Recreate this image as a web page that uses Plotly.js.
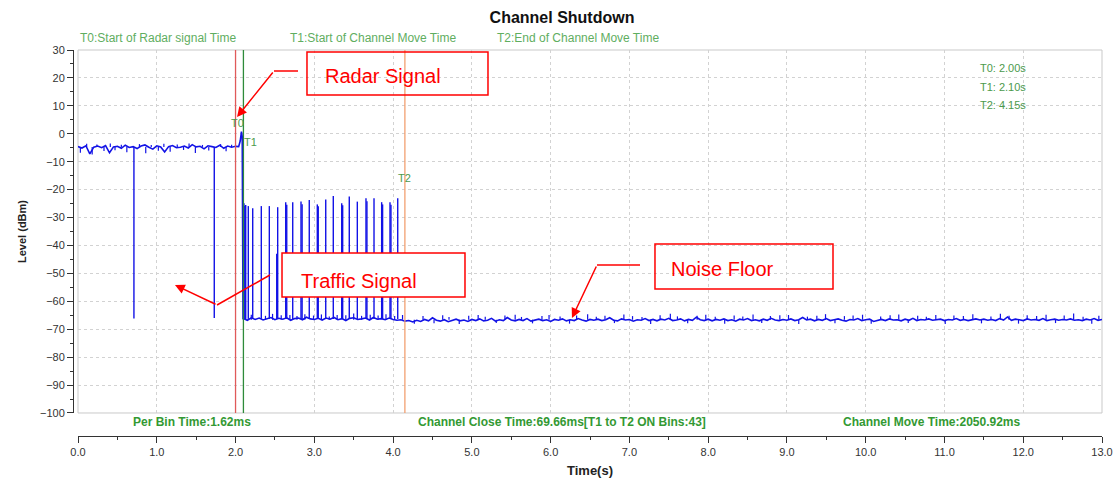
<!DOCTYPE html>
<html><head><meta charset="utf-8">
<script src="https://cdn.plot.ly/plotly-3.0.1.min.js"></script>
<style>html,body{margin:0;padding:0;background:#fff}#chart{width:1116px;height:479px}</style>
</head><body><div id="chart"></div>
<script>
// ---- data ----
const preStart = 0.0, preStep = 0.05;
const preLevels = [-4.6,-5.1,-4.3,-7.2,-4.8,-4.4,-5.0,-4.2,-6.8,-4.7,
  -4.5,-5.2,-4.1,-4.9,-4.6,-5.3,-4.4,-4.0,-4.8,-5.5,
  -4.3,-4.7,-6.5,-4.6,-4.2,-5.0,-4.8,-4.4,-5.1,-3.9,
  -4.7,-4.5,-5.4,-4.3,-4.6,-4.9,-4.1,-5.2,-4.4,-4.8,-4.5];
const radarTimes  = [2.04, 2.06, 2.075, 2.085, 2.095];
const radarLevels = [-4.6, -2.5, 0.8, -1.0, -66.4];
const postStart = 2.10, postStep = 0.05;
const postLevels = [
  -66.2,-66.8,-65.9,-66.5,-66.0,-66.7,-66.3,-65.8,-66.6,-66.1,
  -66.4,-65.9,-66.8,-66.2,-66.0,-66.6,-65.7,-66.3,-66.5,-66.1,
  -66.7,-66.0,-66.4,-65.8,-66.6,-66.2,-66.9,-66.1,-65.9,-66.5,
  -66.3,-66.0,-66.7,-65.8,-66.4,-66.2,-66.6,-66.0,-66.5,-66.8,
  -66.6,-67.1,-66.9,-67.4,-66.8,-67.2,-66.5,-67.0,-65.9,-66.8,
  -67.1,-66.6,-67.3,-66.9,-66.4,-67.0,-66.7,-67.2,-66.5,-66.9,
  -66.3,-67.0,-66.8,-66.1,-67.1,-66.6,-66.9,-65.8,-66.7,-67.0,
  -66.5,-66.9,-66.2,-67.1,-66.7,-66.4,-66.9,-66.6,-67.2,-66.5,
  -66.8,-66.3,-67.0,-66.6,-66.9,-66.2,-66.7,-67.1,-66.5,-66.8,
  -66.4,-66.9,-66.6,-65.9,-66.8,-67.0,-66.3,-66.7,-66.5,-67.1,
  -66.6,-66.8,-66.2,-66.9,-66.5,-67.0,-66.4,-66.7,-66.1,-66.9,
  -66.7,-66.3,-67.0,-66.5,-66.8,-65.7,-66.6,-66.9,-66.4,-67.0,
  -66.5,-66.8,-66.3,-66.9,-66.6,-67.1,-66.4,-66.7,-66.2,-66.9,
  -66.6,-67.0,-66.4,-66.8,-66.1,-66.7,-66.9,-66.5,-66.8,-66.3,
  -66.9,-66.6,-65.8,-66.7,-66.4,-67.0,-66.5,-66.8,-66.2,-66.9,
  -66.6,-66.3,-66.8,-67.1,-66.5,-66.7,-66.2,-66.9,-66.6,-66.4,
  -67.2,-66.8,-66.5,-66.9,-66.3,-66.7,-66.6,-67.0,-66.4,-66.8,
  -66.1,-66.9,-66.5,-66.7,-66.3,-66.8,-66.6,-66.4,-66.9,-66.5,
  -66.7,-66.2,-66.8,-66.5,-66.9,-66.6,-66.3,-66.7,-66.4,-66.8,
  -66.5,-66.9,-66.2,-66.7,-65.6,-66.8,-66.4,-66.6,-66.9,-66.3,
  -66.7,-66.5,-66.8,-66.2,-66.9,-66.6,-66.4,-66.8,-66.5,-66.7,
  -66.3,-66.8,-66.6,-66.9,-66.4,-66.7,-66.2,-66.8,-66.5];
// short noise ticks on the two plateaus
const preTickTimes = [0.03,0.11,0.18,0.24,0.33,0.41,0.47,0.55,0.62,0.78,0.86,0.93,1.02,1.09,1.17,1.26,1.34,1.41,1.49,1.58,1.66,1.81,1.88,1.95];
const preTickTops  = [-6.8,-3.6,-7.4,-3.8,-6.2,-3.5,-5.9,-3.9,-6.6,-3.7,-7.0,-4.0,-6.1,-3.6,-6.4,-3.8,-5.8,-3.5,-6.9,-4.0,-6.0,-3.7,-6.3,-3.9];
const preTickBase = -4.7;
const floorTickTimes = [2.20,2.38,2.47,2.58,2.69,2.78,2.88,2.99,3.09,3.19,3.29,3.40,3.50,3.60,3.71,3.81,3.91,4.02,4.12,4.27,
  4.38,4.52,4.63,4.71,4.84,4.96,5.08,5.17,5.31,5.42,5.55,5.63,5.77,5.89,5.98,6.12,6.24,6.33,6.47,6.58,
  6.69,6.81,6.93,7.04,7.16,7.27,7.39,7.52,7.61,7.74,7.86,7.97,8.09,8.21,8.33,8.44,8.57,8.68,8.79,8.91,
  9.02,9.15,9.26,9.38,9.49,9.61,9.73,9.84,9.96,10.07,10.19,10.31,10.42,10.54,10.66,10.77,10.89,11.01,11.12,11.24,
  11.36,11.47,11.59,11.71,11.82,11.94,12.05,12.17,12.29,12.41,12.52,12.64,12.76,12.87,12.96];
const floorTickTops = [-64.8,-65.2,-64.5,-65.0,-64.9,-65.3,-64.6,-65.1,-64.7,-65.4,
  -64.9,-65.0,-64.4,-65.2,-64.8,-65.1,-64.6,-65.3,-64.9,-68.0,
  -65.3,-67.9,-65.0,-65.6,-68.1,-65.2,-64.9,-65.5,-67.8,-65.1,
  -64.8,-65.6,-67.9,-65.3,-64.9,-65.4,-68.0,-65.1,-64.6,-65.5,
  -65.2,-67.8,-64.7,-65.3,-65.6,-68.1,-65.0,-64.5,-65.4,-67.9,
  -65.2,-64.8,-65.5,-68.0,-65.1,-65.4,-64.7,-67.8,-65.3,-65.0,
  -64.9,-68.1,-65.5,-65.2,-64.6,-67.9,-65.3,-65.1,-64.8,-68.0,
  -65.4,-65.0,-64.7,-67.8,-65.2,-65.5,-64.9,-68.1,-65.1,-65.3,
  -64.6,-67.9,-65.4,-64.5,-65.2,-68.0,-65.0,-65.3,-64.8,-67.8,
  -65.1,-64.4,-65.5,-68.0,-65.2];
const floorTickBase = -66.6;
const dipTimes = [0.71, 1.73];
const dipLevels = [-66.2, -66.0];
const dipBase = -4.7;
const trafficTimes = [2.107,2.118,2.129,2.162,2.218,2.327,2.429,2.523,2.535,2.637,2.650,
  2.726,2.831,2.845,2.936,3.038,3.050,3.145,3.241,3.348,3.360,3.444,3.546,3.656,3.668,
  3.758,3.855,3.867,3.961,3.973,4.059];
const trafficPeaks = [-24.9,-25.8,-25.5,-25.9,-26.7,-25.9,-25.9,-43.0,-26.3,-24.5,-25.4,
  -24.5,-24.3,-25.2,-23.7,-25.3,-26.0,-23.5,-22.3,-24.9,-25.6,-22.5,-24.3,-23.1,-24.2,
  -23.1,-24.5,-25.3,-24.5,-25.4,-23.1];
const trafficBase = -66.3;
const xTickLabels = ['0.0','1.0','2.0','3.0','4.0','5.0','6.0','7.0','8.0','9.0','10.0','11.0','12.0','13.0'];
const markerTimes = [2.00, 2.10, 4.15];
const markerNames = ['T0','T1','T2'];

// ---- build traces ----
const lineX = [], lineY = [];
preLevels.forEach((v,i)=>{ lineX.push(+(preStart+i*preStep).toFixed(3)); lineY.push(v); });
radarTimes.forEach((t,i)=>{ lineX.push(t); lineY.push(radarLevels[i]); });
postLevels.forEach((v,i)=>{ lineX.push(+(postStart+i*postStep).toFixed(3)); lineY.push(v); });

function segs(times, tops, base, X, Y){ times.forEach((t,i)=>{ X.push(t,t,null); Y.push(base, tops[i], null); }); }
const spX = [], spY = [];
segs(dipTimes, dipLevels, dipBase, spX, spY);
segs(trafficTimes, trafficPeaks, trafficBase, spX, spY);
const tkX = [], tkY = [];
segs(preTickTimes, preTickTops, preTickBase, tkX, tkY);
segs(floorTickTimes, floorTickTops, floorTickBase, tkX, tkY);

const BLUE = '#1212e6';
const GREEN = '#3f9a3f';
const traces = [
  {x: tkX, y: tkY, type:'scatter', mode:'lines', line:{color:BLUE, width:1.2}, hoverinfo:'skip'},
  {x: lineX, y: lineY, type:'scatter', mode:'lines', line:{color:BLUE, width:1.6}, hoverinfo:'skip'},
  {x: spX, y: spY, type:'scatter', mode:'lines', line:{color:BLUE, width:1.4}, hoverinfo:'skip'}
];

const FONT = 'Liberation Sans, Arial, sans-serif';
const lineColors = ['#e05a5a', '#2e8b3a', '#f2a070'];
const shapes = [
  {type:'rect', xref:'x domain', yref:'y domain', x0:0, x1:1, y0:0, y1:1, line:{color:'#c9c9c9', width:1}, layer:'below'}
];
markerTimes.forEach((t,i)=>shapes.push({type:'line', xref:'x', yref:'y domain', x0:t, x1:t, y0:0, y1:1, line:{color:lineColors[i], width:1.3}}));

// red callout boxes
const RED = '#ff0000';
shapes.push({type:'rect', xref:'x', yref:'y', x0:2.907, x1:5.205, y0:13.88, y1:29.28, line:{color:RED, width:1.5}, fillcolor:'rgba(255,255,255,0)'});
shapes.push({type:'rect', xref:'x', yref:'y', x0:2.590, x1:4.913, y0:-58.46, y1:-42.70, line:{color:RED, width:1.5}, fillcolor:'rgba(255,255,255,1)'});
shapes.push({type:'rect', xref:'x', yref:'y', x0:7.325, x1:9.585, y0:-55.59, y1:-39.48, line:{color:RED, width:1.5}, fillcolor:'rgba(255,255,255,0)'});
// arrow polylines (leading segments)
shapes.push({type:'line', xref:'x', yref:'y', x0:2.793, y0:22.48, x1:2.488, y1:22.48, line:{color:RED, width:1.5}});
shapes.push({type:'line', xref:'x', yref:'y', x0:2.437, y0:-50.58, x1:1.765, y1:-61.32, line:{color:RED, width:1.5}});
shapes.push({type:'line', xref:'x', yref:'y', x0:7.135, y0:-47.0, x1:6.589, y1:-47.0, line:{color:RED, width:1.5}});

const ann = [];
function txt(text, x, y, opts){ ann.push(Object.assign({text, x, y, xref:'x', yref:'y', xanchor:'center', yanchor:'middle', showarrow:false, font:{family:FONT, size:11, color:GREEN}}, opts||{})); }
const topFont = {family:FONT, size:12, color:'#5fae5f'};
// top legend-like labels
txt('T0:Start of Radar signal Time', 1.016, 1.031, {yref:'paper', font:topFont});
txt('T1:Start of Channel Move Time', 3.745, 1.031, {yref:'paper', font:topFont});
txt('T2:End of Channel Move Time', 6.348, 1.031, {yref:'paper', font:topFont});
// right-top values
markerTimes.forEach((t,i)=>txt(markerNames[i]+': '+t.toFixed(2)+'s', 11.425, [23.55,16.75,10.3][i], {xanchor:'left', font:{family:FONT,size:11,color:'#4c9a4c'}}));
// marker labels on lines
txt('T0', 2.02, 3.9, {font:{family:FONT,size:11,color:'#4c9a4c'}});
txt('T1', 2.085, -2.9, {xanchor:'left', font:{family:FONT,size:11,color:'#4c9a4c'}});
txt('T2', 4.15, -15.8, {font:{family:FONT,size:11,color:'#4c9a4c'}});
// bottom bold notes
const boldGreen = {family:FONT, size:12, color:'#339933'};
txt('<b>Per Bin Time:1.62ms</b>', 1.447, 0.0363, {yref:'paper', font:boldGreen});
txt('<b>Channel Close Time:69.66ms[T1 to T2 ON Bins:43]</b>', 6.145, 0.0363, {yref:'paper', font:boldGreen});
txt('<b>Channel Move Time:2050.92ms</b>', 10.84, 0.0363, {yref:'paper', font:boldGreen});
// callout texts
const redFont = {family:FONT, size:20, color:RED};
txt('Radar Signal', 3.878, 20.7, {font:redFont});
txt('Traffic Signal', 3.567, -52.73, {font:redFont});
txt('Noise Floor', 8.176, -48.43, {font:redFont});
// arrowheads
function arrow(x, y, ax, ay){ ann.push({x, y, ax, ay, xref:'x', yref:'y', axref:'x', ayref:'y', text:'', showarrow:true, arrowhead:2, arrowsize:1.3, arrowwidth:1.5, arrowcolor:RED}); }
arrow(2.019, 6.0, 2.488, 22.48);
arrow(1.231, -54.16, 1.765, -61.32);
arrow(6.271, -65.98, 6.589, -47.0);

const layout = {
  width:1116, height:479,
  margin:{l:73, r:14, t:50, b:43},
  paper_bgcolor:'#fff', plot_bgcolor:'#fff',
  showlegend:false,
  title:{text:'<b>Channel Shutdown</b>', x:0.5036, xanchor:'center', y:0.964, yanchor:'middle', font:{family:FONT, size:16, color:'#111'}},
  xaxis:{
    domain:[0.00486,1], range:[0,13], anchor:'free', position:0,
    tickvals:xTickLabels.map(Number), ticktext:xTickLabels,
    ticks:'outside', ticklen:6, tickcolor:'#333', tickwidth:1,
    minor:{dtick:0.5, ticks:'outside', ticklen:3, tickcolor:'#333', showgrid:false},
    showline:true, linecolor:'#333', linewidth:1.2,
    showgrid:true, gridcolor:'#d2d2d2', griddash:'3px,3px', gridwidth:1,
    zeroline:false,
    tickfont:{family:FONT, size:11, color:'#333'},
    title:{text:'<b>Time(s)</b>', font:{family:FONT, size:13, color:'#222'}, standoff:8}
  },
  yaxis:{
    domain:[0.0596,1], range:[-100,30], anchor:'free', position:0,
    dtick:10, tick0:0,
    ticks:'outside', ticklen:6, tickcolor:'#333', tickwidth:1,
    minor:{dtick:5, ticks:'outside', ticklen:3, tickcolor:'#333', showgrid:false},
    showline:true, linecolor:'#333', linewidth:1.2,
    showgrid:true, gridcolor:'#d2d2d2', griddash:'3px,3px', gridwidth:1,
    zeroline:false,
    tickfont:{family:FONT, size:11, color:'#333'},
    title:{text:'<b>Level (dBm)</b>', font:{family:FONT, size:11, color:'#222'}, standoff:10}
  },
  shapes, annotations:ann
};
Plotly.newPlot('chart', traces, layout, {staticPlot:true, displayModeBar:false});
</script></body></html>
